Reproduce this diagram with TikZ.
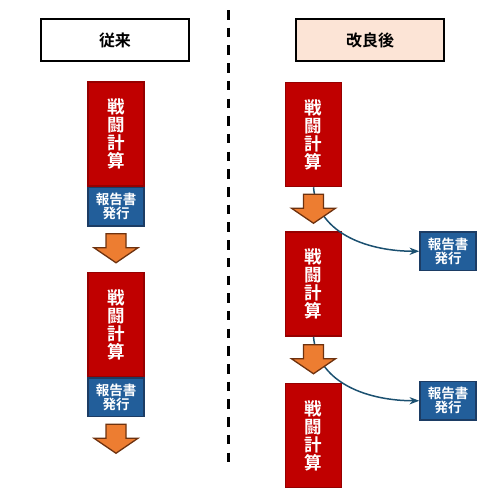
\documentclass[tikz,border=0pt]{standalone}
\usepackage{fontspec}
\newfontfamily\jpfont{Noto Sans CJK JP}[UprightFont={* Bold},BoldFont={* Bold}]
\usetikzlibrary{arrows.meta,positioning}
\definecolor{calcred}{RGB}{192,0,0}
\definecolor{calcedge}{RGB}{150,0,0}
\definecolor{repblue}{RGB}{34,94,154}
\definecolor{repedge}{RGB}{28,60,100}
\definecolor{arrfill}{RGB}{237,125,49}
\definecolor{arredge}{RGB}{110,50,15}
\definecolor{newpink}{RGB}{252,228,214}
\definecolor{linkblue}{RGB}{27,80,112}

\begin{document}
\begin{tikzpicture}[
    x=1pt, y=-1pt,
    >=Stealth,
    head/.style={rectangle,draw=black,line width=1.3pt,minimum width=148pt,minimum height=42pt,font=\jpfont\fontsize{16pt}{18pt}\selectfont},
    calc/.style={rectangle,draw=calcedge,fill=calcred,line width=1.5pt,text=white,minimum width=56pt,minimum height=104pt,align=center,font=\jpfont\fontsize{17.5pt}{18pt}\selectfont},
    report/.style={rectangle,draw=repedge,fill=repblue,line width=1.5pt,text=white,minimum width=56pt,minimum height=38.5pt,align=center,font=\jpfont\fontsize{13.5pt}{14pt}\selectfont},
    downarr/.pic={\draw[draw=arredge,fill=arrfill,line width=1.3pt,line join=miter]
        (-10,0) -- (10,0) -- (10,14) -- (22,14) -- (0,29) -- (-22,14) -- (-10,14) -- cycle;},
    link/.style={->,draw=linkblue,line width=1.5pt},
    divider/.style={line width=3pt,dash pattern=on 9.5pt off 8.2pt}
]
\useasboundingbox (0,0) rectangle (498,499);

% Headers
\node[head] (old) at (115,40) {従来};
\node[head,fill=newpink] (new) at (370,40) {改良後};

% Divider
\coordinate (divtop) at (228,10);
\coordinate (divbot) at (228,463);
\draw[divider] (divtop) -- (divbot);

% Old flow
\node[calc] (l1) at (116,134) {戦\\闘\\計\\算};
\node[report,below=0pt of l1] (lr1) {報告書\\発行};
\coordinate[below=7pt of lr1] (la1);
\node[calc,below=38pt of la1] (l2) {戦\\闘\\計\\算};
\node[report,below=0pt of l2] (lr2) {報告書\\発行};
\coordinate[below=7pt of lr2] (la2);
\pic at (la1) {downarr};
\pic at (la2) {downarr};

% New flow
\node[calc] (r1) at (313.5,134.5) {戦\\闘\\計\\算};
\node[calc,below=44pt of r1] (r2) {戦\\闘\\計\\算};
\node[calc,below=46pt of r2] (r3) {戦\\闘\\計\\算};
\node[report,below right=0pt and 77pt of r2.north east] (rr1) {報告書\\発行};
\node[report,below right=-2pt and 77pt of r3.north east] (rr2) {報告書\\発行};

% Reports issued on the side
\draw[link] (r1.south) to[out=-85,in=180] (rr1.west);
\draw[link] (r2.south) to[out=-85,in=180] (rr2.west);

\coordinate[below=7pt of r1] (ra1);
\coordinate[below=8pt of r2] (ra2);
\pic at (ra1) {downarr};
\pic at (ra2) {downarr};

\end{tikzpicture}
\end{document}
